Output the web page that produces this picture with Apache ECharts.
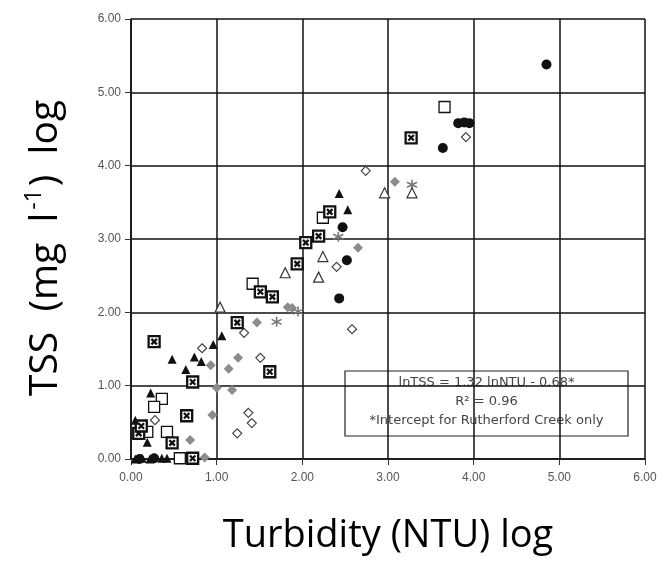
<!DOCTYPE html>
<html><head><meta charset="utf-8">
<script src="https://cdn.jsdelivr.net/npm/echarts@6/dist/echarts.min.js"></script>
<style>html,body{margin:0;padding:0;background:#fff}#chart{width:672px;height:562px}</style>
</head><body><div id="chart"></div>
<script>
// Log turbidity (x) vs log TSS (y) for the sampled creeks
const filledCircles = [[4.85,5.38],[3.82,4.58],[3.89,4.59],[3.95,4.58],[3.64,4.24],[2.47,3.16],[2.52,2.71],[2.43,2.19],[0.10,0.00],[0.27,0.01]];
const openSquares = [[3.66,4.80],[2.24,3.29],[1.42,2.39],[0.36,0.82],[0.27,0.71],[0.19,0.37],[0.42,0.37],[0.57,0.01]];
const crossSquares = [[3.27,4.38],[2.32,3.37],[2.19,3.04],[2.04,2.95],[1.94,2.66],[1.51,2.28],[1.65,2.21],[1.24,1.86],[1.62,1.19],[0.27,1.60],[0.72,1.05],[0.65,0.59],[0.09,0.35],[0.48,0.22],[0.72,0.01],[0.12,0.45]];
const filledTriangles = [[2.43,3.62],[2.53,3.40],[1.06,1.68],[0.96,1.56],[0.74,1.39],[0.82,1.33],[0.48,1.36],[0.64,1.22],[0.23,0.90],[0.05,0.53],[0.19,0.23],[0.05,0.00],[0.13,0.01],[0.22,0.00],[0.36,0.01],[0.42,0.01]];
const openTriangles = [[2.96,3.63],[3.28,3.63],[2.24,2.76],[2.19,2.48],[1.80,2.54],[1.04,2.07]];
const openDiamonds = [[2.74,3.93],[3.91,4.39],[2.40,2.62],[2.58,1.77],[1.51,1.38],[1.32,1.72],[1.37,0.63],[1.41,0.49],[1.24,0.35],[0.83,1.51],[0.28,0.53]];
const grayDiamonds = [[3.08,3.78],[2.65,2.88],[1.83,2.07],[1.88,2.06],[1.47,1.86],[1.25,1.38],[1.14,1.23],[0.93,1.28],[1.18,0.94],[1.00,0.97],[0.95,0.60],[0.69,0.26],[0.86,0.02]];
const asterisks = [[3.28,3.74],[2.42,3.03],[1.95,2.01],[1.70,1.87]];

const regressionNote = ['lnTSS = 1.32 lnNTU - 0.68*', 'R\u00b2 = 0.96', '*Intercept for Rutherford Creek only'];

const crossSquarePath = 'path://M0,0H10V10H0Z M2.5,2.5L7.5,7.5 M7.5,2.5L2.5,7.5';
const asteriskPath = 'path://M5,0V10 M0.5,2.5L9.5,7.5 M9.5,2.5L0.5,7.5';

const chart = echarts.init(document.getElementById('chart'));
const tickFont = { color: '#555', fontFamily: 'Liberation Sans', fontSize: 12 };
const gridLine = { show: true, lineStyle: { color: '#111', width: 1.5 } };

function axisBase() {
  return {
    type: 'value', min: 0, max: 6, interval: 1,
    axisLine: { show: true, lineStyle: { color: '#111', width: 1.5 } },
    axisTick: { show: true, length: 6, lineStyle: { color: '#333' } },
    splitLine: gridLine,
    axisLabel: Object.assign({ formatter: v => v.toFixed(2) }, tickFont)
  };
}

const xAxis = axisBase();
Object.assign(xAxis, {
  name: 'Turbidity (NTU) log', nameLocation: 'middle', nameGap: 58,
  nameTextStyle: { fontFamily: 'Open Sans', fontSize: 38, color: '#000' }
});
xAxis.axisLabel.margin = 13;

const yAxis = axisBase();
Object.assign(yAxis, {
  name: '{a|TSS  (mg  l}{s|-1}{a|)  log}', nameLocation: 'middle', nameGap: 62, nameRotate: 90,
  nameTextStyle: {
    padding: [0, 18, 0, 0],
    rich: {
      a: { fontFamily: 'Open Sans', fontSize: 39, color: '#000', lineHeight: 46 },
      s: { fontFamily: 'Open Sans', fontSize: 23, color: '#000', verticalAlign: 'top', lineHeight: 24, padding: [0, 3, 0, 3] }
    }
  }
});
yAxis.axisLabel.margin = 10;

function series(data, symbol, size, fill, stroke, bw) {
  return {
    type: 'scatter', data, symbol, symbolSize: size,
    itemStyle: { color: fill, borderColor: stroke, borderWidth: bw, opacity: 1 },
    emphasis: { disabled: true }
  };
}

const noteBox = { x: 345, y: 371, w: 283, h: 65 };

chart.setOption({
  animation: false,
  grid: { left: 131, right: 27, top: 19, bottom: 103 },
  xAxis, yAxis,
  series: [
    series(grayDiamonds, 'diamond', 10, '#8c8c8c', '#8c8c8c', 0),
    series(openDiamonds, 'diamond', 9, '#fff', '#444', 1.2),
    series(asterisks, asteriskPath, 10, 'none', '#777', 1.6),
    series(openTriangles, 'triangle', 10, '#fff', '#333', 1.2),
    series(openSquares, 'rect', 11, '#fff', '#111', 1.3),
    series(crossSquares, crossSquarePath, 11, '#fff', '#111', 2.3),
    series(filledTriangles, 'triangle', 9, '#111', '#111', 0),
    series(filledCircles, 'circle', 10, '#111', '#111', 0)
  ],
  graphic: [{
    type: 'group', x: noteBox.x, y: noteBox.y, z: 10,
    children: [
      { type: 'rect', shape: { x: 0, y: 0, width: noteBox.w, height: noteBox.h },
        style: { fill: '#fff', stroke: '#222', lineWidth: 1.2 } },
      ...regressionNote.map((t, i) => ({
        type: 'text', x: noteBox.w / 2, y: 5 + i * 19,
        style: { text: t, fill: '#444', font: '13px "DejaVu Sans"', textAlign: 'center' }
      }))
    ]
  }]
});
</script></body></html>
